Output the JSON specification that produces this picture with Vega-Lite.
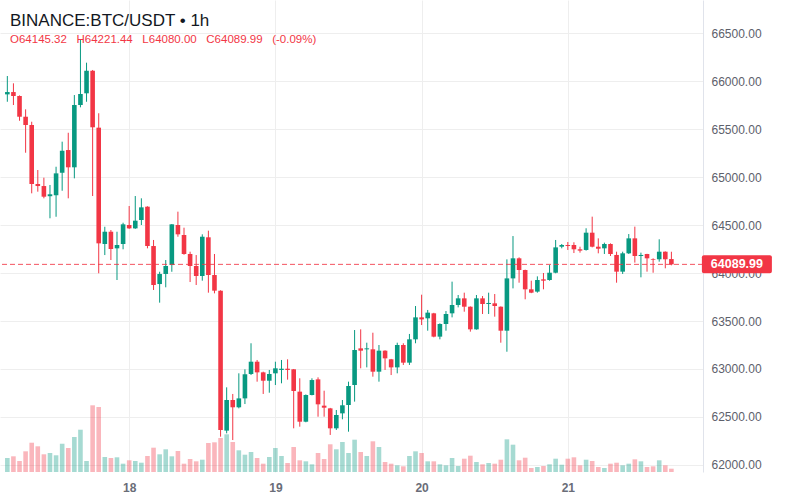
{
  "$schema": "https://vega.github.io/schema/vega-lite/v6.json",
  "width": 703,
  "height": 472,
  "autosize": {"type": "none"},
  "padding": {"left": 0, "top": 0, "right": 97, "bottom": 28},
  "background": "#ffffff",
  "title": {
    "text": "BINANCE:BTC/USDT • 1h",
    "subtitle": "O64145.32\u00a0\u00a0\u00a0H64221.44\u00a0\u00a0\u00a0L64080.00\u00a0\u00a0\u00a0C64089.99\u00a0\u00a0\u00a0(-0.09%)",
    "anchor": "start",
    "frame": "group",
    "orient": "top",
    "offset": -46,
    "dx": 10,
    "font": "Liberation Sans",
    "fontSize": 17,
    "fontWeight": "normal",
    "color": "#131722",
    "subtitleFont": "Liberation Sans",
    "subtitleFontSize": 11.5,
    "subtitleColor": "#f23645",
    "subtitlePadding": 4
  },
  "data": {
    "values": [
      {"t": "2024-06-17T04:00", "o": 65861, "h": 66052, "l": 65784, "c": 65885, "v": 593},
      {"t": "2024-06-17T05:00", "o": 65885, "h": 65976, "l": 65750, "c": 65844, "v": 665},
      {"t": "2024-06-17T06:00", "o": 65844, "h": 65850, "l": 65586, "c": 65628, "v": 466},
      {"t": "2024-06-17T07:00", "o": 65628, "h": 65705, "l": 65253, "c": 65542, "v": 877},
      {"t": "2024-06-17T08:00", "o": 65542, "h": 65576, "l": 64830, "c": 64927, "v": 1241},
      {"t": "2024-06-17T09:00", "o": 64927, "h": 65073, "l": 64847, "c": 64906, "v": 1089},
      {"t": "2024-06-17T10:00", "o": 64906, "h": 64993, "l": 64778, "c": 64795, "v": 750},
      {"t": "2024-06-17T11:00", "o": 64800, "h": 64917, "l": 64570, "c": 64820, "v": 805},
      {"t": "2024-06-17T12:00", "o": 64810, "h": 65107, "l": 64586, "c": 65038, "v": 708},
      {"t": "2024-06-17T13:00", "o": 65045, "h": 65368, "l": 64857, "c": 65274, "v": 1199},
      {"t": "2024-06-17T14:00", "o": 65281, "h": 65461, "l": 64778, "c": 65101, "v": 1017},
      {"t": "2024-06-17T15:00", "o": 65101, "h": 65854, "l": 64986, "c": 65750, "v": 1483},
      {"t": "2024-06-17T16:00", "o": 65750, "h": 66427, "l": 65726, "c": 65865, "v": 1792},
      {"t": "2024-06-17T17:00", "o": 65872, "h": 66191, "l": 65784, "c": 66107, "v": 466},
      {"t": "2024-06-17T18:00", "o": 66107, "h": 66115, "l": 64802, "c": 65518, "v": 2826},
      {"t": "2024-06-17T19:00", "o": 65514, "h": 65664, "l": 63997, "c": 64309, "v": 2754},
      {"t": "2024-06-17T20:00", "o": 64302, "h": 64482, "l": 64187, "c": 64430, "v": 636},
      {"t": "2024-06-17T21:00", "o": 64430, "h": 64448, "l": 64135, "c": 64250, "v": 593},
      {"t": "2024-06-17T22:00", "o": 64257, "h": 64430, "l": 63927, "c": 64292, "v": 623},
      {"t": "2024-06-17T23:00", "o": 64302, "h": 64524, "l": 64247, "c": 64507, "v": 352},
      {"t": "2024-06-18T00:00", "o": 64500, "h": 64698, "l": 64460, "c": 64465, "v": 496},
      {"t": "2024-06-18T01:00", "o": 64465, "h": 64802, "l": 64460, "c": 64545, "v": 466},
      {"t": "2024-06-18T02:00", "o": 64552, "h": 64778, "l": 64500, "c": 64684, "v": 394},
      {"t": "2024-06-18T03:00", "o": 64691, "h": 64695, "l": 64257, "c": 64281, "v": 678},
      {"t": "2024-06-18T04:00", "o": 64281, "h": 64344, "l": 63823, "c": 63875, "v": 1030},
      {"t": "2024-06-18T05:00", "o": 63885, "h": 64013, "l": 63691, "c": 63990, "v": 750},
      {"t": "2024-06-18T06:00", "o": 63990, "h": 64135, "l": 63851, "c": 64073, "v": 962},
      {"t": "2024-06-18T07:00", "o": 64083, "h": 64510, "l": 64013, "c": 64507, "v": 665},
      {"t": "2024-06-18T08:00", "o": 64500, "h": 64639, "l": 64378, "c": 64403, "v": 890},
      {"t": "2024-06-18T09:00", "o": 64396, "h": 64472, "l": 64190, "c": 64198, "v": 352},
      {"t": "2024-06-18T10:00", "o": 64198, "h": 64222, "l": 63906, "c": 64073, "v": 551},
      {"t": "2024-06-18T11:00", "o": 64073, "h": 64187, "l": 63875, "c": 63969, "v": 453},
      {"t": "2024-06-18T12:00", "o": 63969, "h": 64403, "l": 63920, "c": 64378, "v": 521},
      {"t": "2024-06-18T13:00", "o": 64372, "h": 64441, "l": 63795, "c": 63979, "v": 1229},
      {"t": "2024-06-18T14:00", "o": 63979, "h": 64198, "l": 63788, "c": 63816, "v": 1258},
      {"t": "2024-06-18T15:00", "o": 63816, "h": 63820, "l": 62295, "c": 62365, "v": 1441},
      {"t": "2024-06-18T16:00", "o": 62358, "h": 62809, "l": 62330, "c": 62677, "v": 1597},
      {"t": "2024-06-18T17:00", "o": 62677, "h": 62740, "l": 62260, "c": 62601, "v": 1271},
      {"t": "2024-06-18T18:00", "o": 62601, "h": 62955, "l": 62590, "c": 62694, "v": 919},
      {"t": "2024-06-18T19:00", "o": 62694, "h": 62997, "l": 62635, "c": 62945, "v": 733},
      {"t": "2024-06-18T20:00", "o": 62948, "h": 63268, "l": 62937, "c": 63076, "v": 847},
      {"t": "2024-06-18T21:00", "o": 63076, "h": 63094, "l": 62868, "c": 62965, "v": 593},
      {"t": "2024-06-18T22:00", "o": 62965, "h": 62972, "l": 62740, "c": 62878, "v": 352},
      {"t": "2024-06-18T23:00", "o": 62878, "h": 62990, "l": 62753, "c": 62948, "v": 636},
      {"t": "2024-06-19T00:00", "o": 62955, "h": 63076, "l": 62833, "c": 63007, "v": 1017},
      {"t": "2024-06-19T01:00", "o": 62990, "h": 63094, "l": 62851, "c": 63003, "v": 678},
      {"t": "2024-06-19T02:00", "o": 63003, "h": 63101, "l": 62889, "c": 62990, "v": 381},
      {"t": "2024-06-19T03:00", "o": 62997, "h": 63000, "l": 62382, "c": 62771, "v": 1059},
      {"t": "2024-06-19T04:00", "o": 62764, "h": 62903, "l": 62399, "c": 62451, "v": 496},
      {"t": "2024-06-19T05:00", "o": 62451, "h": 62735, "l": 62445, "c": 62729, "v": 453},
      {"t": "2024-06-19T06:00", "o": 62729, "h": 62903, "l": 62725, "c": 62885, "v": 326},
      {"t": "2024-06-19T07:00", "o": 62892, "h": 62913, "l": 62503, "c": 62632, "v": 805},
      {"t": "2024-06-19T08:00", "o": 62618, "h": 62774, "l": 62503, "c": 62597, "v": 551},
      {"t": "2024-06-19T09:00", "o": 62590, "h": 62595, "l": 62313, "c": 62382, "v": 1174},
      {"t": "2024-06-19T10:00", "o": 62382, "h": 62573, "l": 62365, "c": 62521, "v": 962},
      {"t": "2024-06-19T11:00", "o": 62538, "h": 62677, "l": 62476, "c": 62622, "v": 1271},
      {"t": "2024-06-19T12:00", "o": 62625, "h": 62868, "l": 62347, "c": 62823, "v": 805},
      {"t": "2024-06-19T13:00", "o": 62833, "h": 63406, "l": 62660, "c": 63198, "v": 1369},
      {"t": "2024-06-19T14:00", "o": 63215, "h": 63413, "l": 63007, "c": 63191, "v": 847},
      {"t": "2024-06-19T15:00", "o": 63205, "h": 63274, "l": 63017, "c": 63215, "v": 678},
      {"t": "2024-06-19T16:00", "o": 63205, "h": 63378, "l": 62920, "c": 62972, "v": 1301},
      {"t": "2024-06-19T17:00", "o": 62972, "h": 63250, "l": 62868, "c": 63191, "v": 1059},
      {"t": "2024-06-19T18:00", "o": 63191, "h": 63195, "l": 62990, "c": 63111, "v": 424},
      {"t": "2024-06-19T19:00", "o": 63101, "h": 63105, "l": 62937, "c": 63017, "v": 352},
      {"t": "2024-06-19T20:00", "o": 63017, "h": 63274, "l": 62955, "c": 63250, "v": 284},
      {"t": "2024-06-19T21:00", "o": 63250, "h": 63268, "l": 63042, "c": 63066, "v": 241},
      {"t": "2024-06-19T22:00", "o": 63066, "h": 63365, "l": 63042, "c": 63309, "v": 678},
      {"t": "2024-06-19T23:00", "o": 63309, "h": 63656, "l": 63268, "c": 63538, "v": 877},
      {"t": "2024-06-20T00:00", "o": 63538, "h": 63774, "l": 63458, "c": 63517, "v": 805},
      {"t": "2024-06-20T01:00", "o": 63528, "h": 63615, "l": 63399, "c": 63587, "v": 453},
      {"t": "2024-06-20T02:00", "o": 63580, "h": 63585, "l": 63330, "c": 63337, "v": 453},
      {"t": "2024-06-20T03:00", "o": 63337, "h": 63476, "l": 63309, "c": 63469, "v": 326},
      {"t": "2024-06-20T04:00", "o": 63469, "h": 63604, "l": 63399, "c": 63573, "v": 284},
      {"t": "2024-06-20T05:00", "o": 63580, "h": 63910, "l": 63538, "c": 63667, "v": 593},
      {"t": "2024-06-20T06:00", "o": 63667, "h": 63771, "l": 63642, "c": 63736, "v": 254},
      {"t": "2024-06-20T07:00", "o": 63736, "h": 63795, "l": 63597, "c": 63649, "v": 564},
      {"t": "2024-06-20T08:00", "o": 63649, "h": 63652, "l": 63389, "c": 63413, "v": 691},
      {"t": "2024-06-20T09:00", "o": 63413, "h": 63771, "l": 63410, "c": 63736, "v": 424},
      {"t": "2024-06-20T10:00", "o": 63736, "h": 63760, "l": 63573, "c": 63677, "v": 326},
      {"t": "2024-06-20T11:00", "o": 63677, "h": 63795, "l": 63573, "c": 63688, "v": 381},
      {"t": "2024-06-20T12:00", "o": 63684, "h": 63781, "l": 63545, "c": 63656, "v": 352},
      {"t": "2024-06-20T13:00", "o": 63649, "h": 63652, "l": 63274, "c": 63399, "v": 521},
      {"t": "2024-06-20T14:00", "o": 63399, "h": 64142, "l": 63180, "c": 63944, "v": 1385},
      {"t": "2024-06-20T15:00", "o": 63944, "h": 64385, "l": 63840, "c": 64153, "v": 1157},
      {"t": "2024-06-20T16:00", "o": 64153, "h": 64163, "l": 63899, "c": 64031, "v": 496},
      {"t": "2024-06-20T17:00", "o": 64031, "h": 64035, "l": 63726, "c": 63830, "v": 606},
      {"t": "2024-06-20T18:00", "o": 63830, "h": 63920, "l": 63790, "c": 63795, "v": 169},
      {"t": "2024-06-20T19:00", "o": 63806, "h": 63965, "l": 63795, "c": 63927, "v": 212},
      {"t": "2024-06-20T20:00", "o": 63934, "h": 64000, "l": 63830, "c": 63920, "v": 254},
      {"t": "2024-06-20T21:00", "o": 63927, "h": 64083, "l": 63920, "c": 64003, "v": 326},
      {"t": "2024-06-20T22:00", "o": 64003, "h": 64344, "l": 63997, "c": 64267, "v": 564},
      {"t": "2024-06-20T23:00", "o": 64274, "h": 64302, "l": 64257, "c": 64292, "v": 309},
      {"t": "2024-06-21T00:00", "o": 64292, "h": 64323, "l": 64240, "c": 64281, "v": 564},
      {"t": "2024-06-21T01:00", "o": 64292, "h": 64320, "l": 64208, "c": 64247, "v": 623},
      {"t": "2024-06-21T02:00", "o": 64247, "h": 64274, "l": 64212, "c": 64233, "v": 284},
      {"t": "2024-06-21T03:00", "o": 64240, "h": 64466, "l": 64233, "c": 64420, "v": 521},
      {"t": "2024-06-21T04:00", "o": 64420, "h": 64587, "l": 64267, "c": 64274, "v": 466},
      {"t": "2024-06-21T05:00", "o": 64274, "h": 64361, "l": 64205, "c": 64253, "v": 212},
      {"t": "2024-06-21T06:00", "o": 64257, "h": 64316, "l": 64198, "c": 64302, "v": 169},
      {"t": "2024-06-21T07:00", "o": 64302, "h": 64309, "l": 64177, "c": 64198, "v": 352},
      {"t": "2024-06-21T08:00", "o": 64188, "h": 64222, "l": 63899, "c": 64014, "v": 394},
      {"t": "2024-06-21T09:00", "o": 64014, "h": 64222, "l": 63990, "c": 64205, "v": 284},
      {"t": "2024-06-21T10:00", "o": 64205, "h": 64406, "l": 64198, "c": 64361, "v": 352},
      {"t": "2024-06-21T11:00", "o": 64361, "h": 64483, "l": 64108, "c": 64177, "v": 538},
      {"t": "2024-06-21T12:00", "o": 64177, "h": 64212, "l": 63955, "c": 64188, "v": 453},
      {"t": "2024-06-21T13:00", "o": 64198, "h": 64200, "l": 64014, "c": 64153, "v": 212},
      {"t": "2024-06-21T14:00", "o": 64146, "h": 64153, "l": 64003, "c": 64139, "v": 241},
      {"t": "2024-06-21T15:00", "o": 64143, "h": 64351, "l": 64118, "c": 64222, "v": 496},
      {"t": "2024-06-21T16:00", "o": 64222, "h": 64225, "l": 64049, "c": 64143, "v": 284},
      {"t": "2024-06-21T17:00", "o": 64145.32, "h": 64221.44, "l": 64080.0, "c": 64089.99, "v": 140}
    ]
  },
  "resolve": {"scale": {"y": "independent"}},
  "layer": [
    {
      "mark": {"type": "bar", "width": 4.6, "opacity": 0.36},
      "encoding": {
        "x": {
          "field": "t", "type": "temporal",
          "scale": {"domain": [{"year": 2024, "month": "jun", "date": 17, "hours": 3, "minutes": 37}, {"year": 2024, "month": "jun", "date": 21, "hours": 21, "minutes": 22}]},
          "axis": {"orient": "bottom", "title": null, "format": "%-d", "tickCount": {"interval": "day", "step": 1}, "grid": true, "gridColor": "#eeeeee", "domain": false, "ticks": false, "labelFont": "Liberation Sans", "labelFontSize": 12, "labelFontWeight": "bold", "labelColor": "#6a6d78", "labelPadding": 10, "labelFlush": false}
        },
        "y": {"field": "v", "type": "quantitative", "scale": {"domain": [0, 20000], "nice": false}, "axis": null},
        "color": {"condition": {"test": "datum.c >= datum.o", "value": "#089981"}, "value": "#f23645"}
      }
    },
    {
      "layer": [
        {
          "mark": {"type": "rule", "strokeWidth": 1},
          "encoding": {
            "x": {
              "field": "t", "type": "temporal",
              "scale": {"domain": [{"year": 2024, "month": "jun", "date": 17, "hours": 3, "minutes": 37}, {"year": 2024, "month": "jun", "date": 21, "hours": 21, "minutes": 22}]},
              "axis": {"orient": "bottom", "title": null, "format": "%-d", "tickCount": {"interval": "day", "step": 1}, "grid": true, "gridColor": "#eeeeee", "domain": false, "ticks": false, "labelFont": "Liberation Sans", "labelFontSize": 12, "labelFontWeight": "bold", "labelColor": "#6a6d78", "labelPadding": 10, "labelFlush": false}
            },
            "y": {
              "field": "l", "type": "quantitative",
              "scale": {"domain": [61927, 66844], "nice": false, "zero": false},
              "axis": {"orient": "right", "title": null, "values": [62000, 62500, 63000, 63500, 64000, 64500, 65000, 65500, 66000, 66500], "format": ".2f", "grid": true, "gridColor": "#eeeeee", "domain": true, "domainColor": "#e0e3eb", "ticks": false, "labelFont": "Liberation Sans", "labelFontSize": 12, "labelColor": "#5d606b", "labelPadding": 8}
            },
            "y2": {"field": "h"},
            "color": {"condition": {"test": "datum.c >= datum.o", "value": "#089981"}, "value": "#f23645"}
          }
        },
        {
          "mark": {"type": "bar", "width": 4.6},
          "encoding": {
            "x": {
              "field": "t", "type": "temporal",
              "scale": {"domain": [{"year": 2024, "month": "jun", "date": 17, "hours": 3, "minutes": 37}, {"year": 2024, "month": "jun", "date": 21, "hours": 21, "minutes": 22}]},
              "axis": {"orient": "bottom", "title": null, "format": "%-d", "tickCount": {"interval": "day", "step": 1}, "grid": true, "gridColor": "#eeeeee", "domain": false, "ticks": false, "labelFont": "Liberation Sans", "labelFontSize": 12, "labelFontWeight": "bold", "labelColor": "#6a6d78", "labelPadding": 10, "labelFlush": false}
            },
            "y": {
              "field": "o", "type": "quantitative",
              "scale": {"domain": [61927, 66844], "nice": false, "zero": false},
              "axis": {"orient": "right", "title": null, "values": [62000, 62500, 63000, 63500, 64000, 64500, 65000, 65500, 66000, 66500], "format": ".2f", "grid": true, "gridColor": "#eeeeee", "domain": true, "domainColor": "#e0e3eb", "ticks": false, "labelFont": "Liberation Sans", "labelFontSize": 12, "labelColor": "#5d606b", "labelPadding": 8}
            },
            "y2": {"field": "c"},
            "color": {"condition": {"test": "datum.c >= datum.o", "value": "#089981"}, "value": "#f23645"}
          }
        },
        {
          "transform": [{"filter": "datum.c === 64089.99"}],
          "mark": {"type": "rule", "stroke": "#f23645", "strokeWidth": 1, "strokeDash": [5, 3], "opacity": 0.85},
          "encoding": {
            "y": {"field": "c", "type": "quantitative"}
          }
        },
        {
          "transform": [{"filter": "datum.c === 64089.99"}],
          "mark": {"type": "tick", "orient": "horizontal", "size": 70, "thickness": 18, "color": "#f23645", "opacity": 1, "cornerRadius": 2},
          "encoding": {
            "x": {"datum": {"year": 2024, "month": "jun", "date": 22, "hours": 3, "minutes": 45}, "type": "temporal"},
            "y": {"field": "c", "type": "quantitative"}
          }
        },
        {
          "transform": [{"filter": "datum.c === 64089.99"}],
          "mark": {"type": "text", "color": "#ffffff", "font": "Liberation Sans", "fontSize": 12.5, "fontWeight": "bold", "align": "center", "baseline": "middle"},
          "encoding": {
            "x": {"datum": {"year": 2024, "month": "jun", "date": 22, "hours": 3, "minutes": 45}, "type": "temporal"},
            "y": {"field": "c", "type": "quantitative"},
            "text": {"field": "c", "type": "quantitative", "format": ".2f"}
          }
        }
      ]
    }
  ],
  "config": {"view": {"stroke": null}}
}
